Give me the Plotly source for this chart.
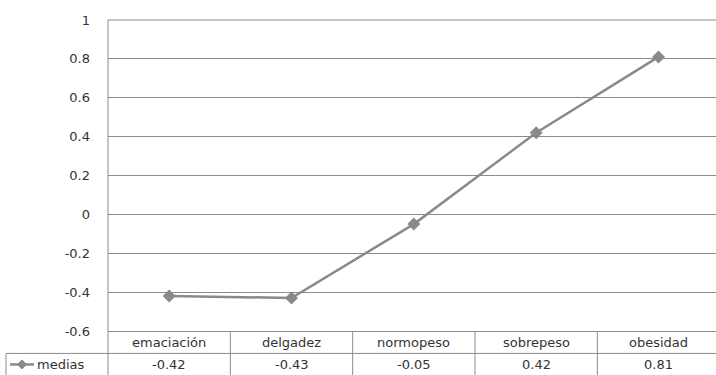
import plotly.graph_objects as go

# Mean values per BMI category
categorias = ["emaciación", "delgadez", "normopeso", "sobrepeso", "obesidad"]
medias = [-0.42, -0.43, -0.05, 0.42, 0.81]
serie = "medias"
y_ticks = [-0.6, -0.4, -0.2, 0, 0.2, 0.4, 0.6, 0.8, 1]
y_ticktext = ["-0.6", "-0.4", "-0.2", "0", "0.2", "0.4", "0.6", "0.8", "1"]

W, H = 716, 375
L, R, T, B = 108, 0, 20, 44.4
PW, PH = W - L - R, H - T - B
XR = [-0.5, 4.47]

LINE = "#8a8a8a"
GRID = "#8c8c8c"
TXT = "#333333"
FONT = "DejaVu Sans"
FS = 13


def px(xpix):
    return (xpix - L) / PW


def py(ypix):
    return (H - B - ypix) / PH


def cx(c):
    return (c - XR[0]) / (XR[1] - XR[0])


fig = go.Figure()
fig.add_trace(go.Scatter(
    x=list(range(len(categorias))), y=medias, mode="lines+markers",
    line=dict(color=LINE, width=2.5),
    marker=dict(symbol="diamond", size=10, color=LINE),
    showlegend=False, hoverinfo="skip", cliponaxis=False,
))

shapes = []
row1_bot = py(353)
row2_bot = py(375)
line_style = dict(color=GRID, width=1)
# top border of the plot area
shapes.append(dict(type="line", xref="paper", yref="paper",
                   x0=0, x1=1, y0=1, y1=1, line=line_style))
# vertical cell borders between categories
for i in range(len(categorias)):
    xb = cx(i + 0.5)
    shapes.append(dict(type="line", xref="paper", yref="paper",
                       x0=xb, x1=xb, y0=0, y1=row2_bot, line=line_style))
# y axis line extended through the table
shapes.append(dict(type="line", xref="paper", yref="paper",
                   x0=0, x1=0, y0=1, y1=row2_bot, line=line_style))
# horizontal border between header row and value row
shapes.append(dict(type="line", xref="paper", yref="paper",
                   x0=px(6), x1=1, y0=row1_bot, y1=row1_bot, line=line_style))
# left border of the series label cell
shapes.append(dict(type="line", xref="paper", yref="paper",
                   x0=px(6), x1=px(6), y0=row1_bot, y1=row2_bot, line=line_style))
# legend key inside the table: line plus diamond
ky = py(364)
shapes.append(dict(type="line", xref="paper", yref="paper",
                   x0=px(10), x1=px(34), y0=ky, y1=ky,
                   line=dict(color=LINE, width=2.5)))
kx, r = 22, 4.5
diamond = (f"M {px(kx)} {py(364 - r)} L {px(kx + r)} {py(364)} "
           f"L {px(kx)} {py(364 + r)} L {px(kx - r)} {py(364)} Z")
shapes.append(dict(type="path", xref="paper", yref="paper", path=diamond,
                   fillcolor=LINE, line=dict(color=LINE, width=1)))

annotations = []
for i, (c, v) in enumerate(zip(categorias, medias)):
    annotations.append(dict(x=i, y=py(342), xref="x", yref="paper", text=c,
                            yanchor="middle", xanchor="center", showarrow=False,
                            font=dict(family=FONT, size=FS, color=TXT)))
    annotations.append(dict(x=i, y=py(364.5), xref="x", yref="paper", text=f"{v:.2f}",
                            yanchor="middle", xanchor="center", showarrow=False,
                            font=dict(family=FONT, size=FS, color=TXT)))
annotations.append(dict(x=px(35), y=py(364.5), xref="paper", yref="paper", text=serie,
                        xanchor="left", yanchor="middle", showarrow=False,
                        font=dict(family=FONT, size=FS, color=TXT)))

fig.update_layout(
    width=W, height=H,
    margin=dict(l=L, r=R, t=T, b=B),
    paper_bgcolor="white", plot_bgcolor="white",
    shapes=shapes, annotations=annotations,
    font=dict(family=FONT, size=FS, color=TXT),
    xaxis=dict(range=XR, showticklabels=False, showgrid=False, zeroline=False,
               showline=True, linecolor=GRID, linewidth=1, fixedrange=True),
    yaxis=dict(range=[-0.6, 1], tickvals=y_ticks, ticktext=y_ticktext,
               showgrid=True, gridcolor=GRID, gridwidth=1, zeroline=False,
               showline=False, ticks="", ticklabelstandoff=17,
               tickfont=dict(family=FONT, size=FS, color=TXT)),
)

fig.write_html("out.html")
